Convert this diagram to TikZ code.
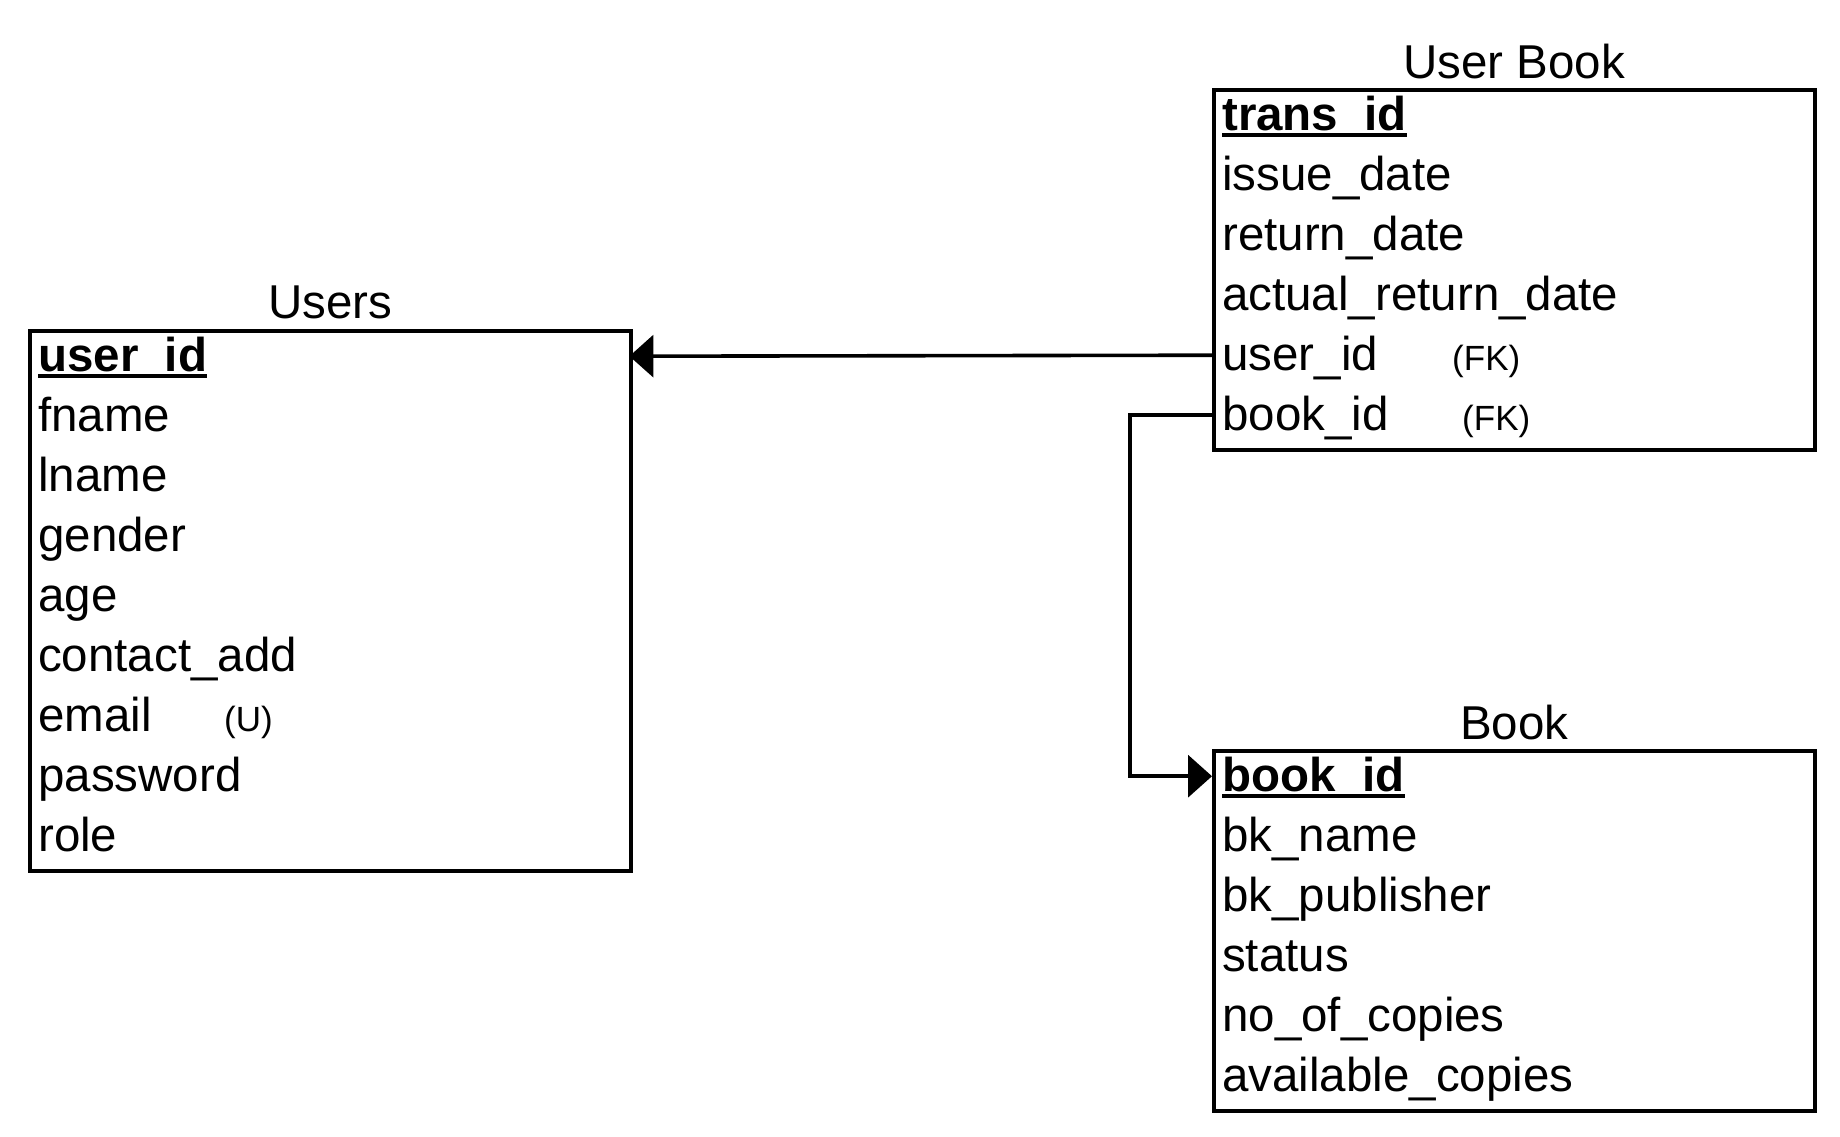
\documentclass[tikz,border=0pt]{standalone}
\usepackage{fontspec}
\setmainfont{Liberation Sans}
\usetikzlibrary{arrows.meta}
\begin{document}
\begin{tikzpicture}[x=1pt,y=-1pt,
  frame/.style={draw, line width=3.6pt, inner sep=0, minimum width=601pt, anchor=north west},
  rowbox/.style={inner sep=0, minimum width=601pt, minimum height=60pt, anchor=north west},
  field/.style={font=\fontsize{47.5}{57}\selectfont, inner sep=0, anchor=base west},
  pkfield/.style={field, font=\fontsize{47.5}{57}\selectfont\bfseries},
  note/.style={font=\fontsize{35}{42}\selectfont, inner sep=0, anchor=base west},
  title/.style={font=\fontsize{47.5}{57}\selectfont, inner sep=0, anchor=base},
  pkline/.style={line width=4pt},
  fk/.style={line width=3.6pt, -{Triangle[length=24pt, width=42pt]}}]
\useasboundingbox (0,0) rectangle (1840,1136);

% ---------------- Users ----------------
\node[frame, minimum height=540pt] (users) at (28,329) {};
\node[title] (userst) at ([yshift=11pt]users.north) {Users};
\foreach \i in {1,...,9} {
  \node[rowbox] (u\i) at (28,{329+60*(\i-1)}) {};
}
\node[pkfield] (ut1) at ([xshift=10pt,yshift=-12pt]u1.west) {user\_id};
\node[field] (ut2) at ([xshift=10pt,yshift=-12pt]u2.west) {fname};
\node[field] (ut3) at ([xshift=10pt,yshift=-12pt]u3.west) {lname};
\node[field] (ut4) at ([xshift=10pt,yshift=-12pt]u4.west) {gender};
\node[field] (ut5) at ([xshift=10pt,yshift=-12pt]u5.west) {age};
\node[field] (ut6) at ([xshift=10pt,yshift=-12pt]u6.west) {contact\_add};
\node[field] (ut7) at ([xshift=10pt,yshift=-12pt]u7.west) {email};
\node[note] (ut7n) at ([xshift=196pt,yshift=-12pt]u7.west) {(U)};
\node[field] (ut8) at ([xshift=10pt,yshift=-12pt]u8.west) {password};
\node[field] (ut9) at ([xshift=10pt,yshift=-12pt]u9.west) {role};
\draw[pkline] ([yshift=-5pt]ut1.base west) -- ([yshift=-5pt]ut1.base east);

% ---------------- User Book ----------------
\node[frame, minimum height=360pt] (ub) at (1212,88) {};
\node[title] (ubt) at ([yshift=10pt]ub.north) {User Book};
\foreach \i in {1,...,6} {
  \node[rowbox] (ub\i) at (1212,{88+60*(\i-1)}) {};
}
\node[pkfield] (ubtx1) at ([xshift=10pt,yshift=-12pt]ub1.west) {trans\_id};
\node[field] (ubtx2) at ([xshift=10pt,yshift=-12pt]ub2.west) {issue\_date};
\node[field] (ubtx3) at ([xshift=10pt,yshift=-12pt]ub3.west) {return\_date};
\node[field] (ubtx4) at ([xshift=10pt,yshift=-12pt]ub4.west) {actual\_return\_date};
\node[field] (ubtx5) at ([xshift=10pt,yshift=-12pt]ub5.west) {user\_id};
\node[note] (ubtx5n) at ([xshift=240pt,yshift=-12pt]ub5.west) {(FK)};
\node[field] (ubtx6) at ([xshift=10pt,yshift=-12pt]ub6.west) {book\_id};
\node[note] (ubtx6n) at ([xshift=250pt,yshift=-12pt]ub6.west) {(FK)};
\draw[pkline] ([yshift=-5pt]ubtx1.base west) -- ([yshift=-5pt]ubtx1.base east);

% ---------------- Book ----------------
\node[frame, minimum height=360pt] (book) at (1212,749) {};
\node[title] (bookt) at ([yshift=10pt]book.north) {Book};
\foreach \i in {1,...,6} {
  \node[rowbox] (b\i) at (1212,{749+60*(\i-1)}) {};
}
\node[pkfield] (bt1) at ([xshift=10pt,yshift=-12pt]b1.west) {book\_id};
\node[field] (bt2) at ([xshift=10pt,yshift=-12pt]b2.west) {bk\_name};
\node[field] (bt3) at ([xshift=10pt,yshift=-12pt]b3.west) {bk\_publisher};
\node[field] (bt4) at ([xshift=10pt,yshift=-12pt]b4.west) {status};
\node[field] (bt5) at ([xshift=10pt,yshift=-12pt]b5.west) {no\_of\_copies};
\node[field] (bt6) at ([xshift=10pt,yshift=-12pt]b6.west) {available\_copies};
\draw[pkline] ([yshift=-5pt]bt1.base west) -- ([yshift=-5pt]bt1.base east);

% ---------------- Connectors ----------------
\draw[fk] ([yshift=3pt]ub5.west) -- ([yshift=3pt]u1.east);
\draw[fk] ([yshift=3pt]ub6.west) -- ++(-82,0) |- ([yshift=3pt]b1.west);
\end{tikzpicture}
\end{document}
